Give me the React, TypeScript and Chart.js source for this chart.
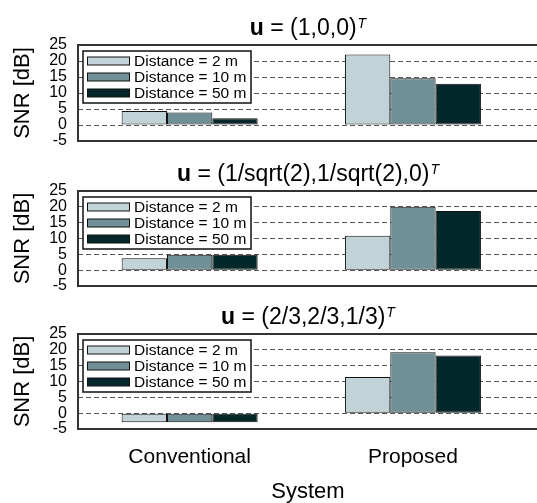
import { useEffect, useRef } from 'react';
import { Chart, registerables } from 'chart.js';

Chart.register(...registerables);

// ---------- data ----------
const categories = ['Conventional', 'Proposed'];
const categoryPositions = [1, 2];
const seriesLabels = ['Distance = 2 m', 'Distance = 10 m', 'Distance = 50 m'];
const panelVectors = ['(1,0,0)', '(1/sqrt(2),1/sqrt(2),0)', '(2/3,2/3,1/3)'];

// values: [Conventional, Proposed]
const panel1Dist2 = [4.4, 22.0];
const panel1Dist10 = [3.9, 14.6];
const panel1Dist50 = [2.1, 12.9];

const panel2Dist2 = [3.8, 10.9];
const panel2Dist10 = [4.9, 20.0];
const panel2Dist50 = [4.9, 18.7];

const panel3Dist2 = [-2.9, 11.4];
const panel3Dist10 = [-2.9, 19.2];
const panel3Dist50 = [-2.9, 18.2];

const yTickValues = [-5, 0, 5, 10, 15, 20, 25];
const yAxisTitle = 'SNR [dB]';
const xAxisTitle = 'System';

const panelSeries = [
  [panel1Dist2, panel1Dist10, panel1Dist50],
  [panel2Dist2, panel2Dist10, panel2Dist50],
  [panel3Dist2, panel3Dist10, panel3Dist50],
];

// ---------- styles / layout ----------
const seriesColors = ['#c1d3d9', '#718f96', '#04282a'];
const FONT = '"Liberation Sans", Arial, Helvetica, sans-serif';
const CANVAS_W = 538;
const CANVAS_H = 512;
const PLOT_LEFT = 78;
const panelTops = [45, 191, 334];
const panelBottoms = [141, 286, 429];

const decorPlugin = {
  id: 'decor',
  afterDraw(chart: any, _args: any, opts: any) {
    const { ctx, chartArea: a } = chart;
    ctx.save();
    // frame
    ctx.strokeStyle = '#333';
    ctx.lineWidth = 2;
    ctx.strokeRect(a.left, a.top, a.right - a.left, a.bottom - a.top);

    // legend
    const bx = a.left + 5;
    const by = a.top + 6;
    const bw = 168;
    const bh = 52;
    ctx.fillStyle = '#fff';
    ctx.fillRect(bx, by, bw, bh);
    ctx.strokeStyle = '#111';
    ctx.lineWidth = 1.5;
    ctx.strokeRect(bx, by, bw, bh);
    chart.data.datasets.forEach((ds: any, i: number) => {
      const cy = by + 10 + i * 16;
      ctx.fillStyle = ds.backgroundColor;
      ctx.fillRect(bx + 4.5, cy - 4, 42, 8);
      ctx.strokeStyle = '#111';
      ctx.lineWidth = 1;
      ctx.strokeRect(bx + 4.5, cy - 4, 42, 8);
      ctx.fillStyle = '#000';
      ctx.font = `15.5px ${FONT}`;
      ctx.textAlign = 'left';
      ctx.textBaseline = 'middle';
      ctx.fillText(ds.label, bx + 51, cy + 0.5);
    });

    // title: bold u = vector ^T
    const vec = opts.vector as string;
    const boldFont = `bold 23px ${FONT}`;
    const normFont = `23px ${FONT}`;
    const supFont = `italic 14px ${FONT}`;
    ctx.font = boldFont;
    const w1 = ctx.measureText('u').width;
    const rest = ' = ' + vec;
    ctx.font = normFont;
    const w2 = ctx.measureText(rest).width;
    ctx.font = supFont;
    const w3 = ctx.measureText('T').width;
    const total = w1 + w2 + w3 + 1;
    let x = (a.left + a.right) / 2 - total / 2;
    const y = a.top - 10;
    ctx.fillStyle = '#000';
    ctx.textAlign = 'left';
    ctx.textBaseline = 'alphabetic';
    ctx.font = boldFont;
    ctx.fillText('u', x, y);
    x += w1;
    ctx.font = normFont;
    ctx.fillText(rest, x, y);
    x += w2 + 1;
    ctx.font = supFont;
    ctx.fillText('T', x, y - 7);
    ctx.restore();
  },
};

function makeConfig(panel: number): any {
  const isBottom = panel === 2;
  const xHeight = isBottom ? CANVAS_H - panelBottoms[panel] : 0;
  return {
    type: 'bar',
    data: {
      datasets: panelSeries[panel].map((vals, i) => ({
        label: seriesLabels[i],
        data: vals.map((v, j) => ({ x: categoryPositions[j], y: v })),
        backgroundColor: seriesColors[i],
        borderColor: '#111',
        borderWidth: 1,
        borderSkipped: false,
        categoryPercentage: 0.609,
        barPercentage: 1.0,
      })),
    },
    options: {
      responsive: false,
      animation: false,
      events: [],
      layout: {
        autoPadding: false,
        padding: {
          left: 0,
          right: 0,
          top: panelTops[panel],
          bottom: CANVAS_H - panelBottoms[panel] - xHeight,
        },
      },
      plugins: {
        legend: { display: false },
        tooltip: { enabled: false },
        title: { display: false },
        decor: { vector: panelVectors[panel] },
      },
      scales: {
        x: {
          type: 'linear',
          display: isBottom,
          min: 0.5,
          max: 2.56,
          offset: false,
          grid: { display: false, drawTicks: false, offset: false },
          border: { display: false },
          afterBuildTicks: (scale: any) => {
            scale.ticks = categoryPositions.map((v) => ({ value: v }));
          },
          afterFit: (scale: any) => {
            scale.height = xHeight;
          },
          ticks: {
            autoSkip: false,
            maxRotation: 0,
            padding: 16,
            color: '#000',
            font: { size: 21, family: FONT },
            callback: (v: number) => {
              const i = categoryPositions.indexOf(v);
              return i >= 0 ? categories[i] : '';
            },
          },
          title: {
            display: isBottom,
            text: xAxisTitle,
            color: '#000',
            font: { size: 22, family: FONT },
            padding: { top: 0, bottom: 7 },
          },
        },
        y: {
          type: 'linear',
          min: -5,
          max: 25,
          grid: { color: '#555', lineWidth: 1, drawTicks: false },
          border: { display: false, dash: [5, 3] },
          afterBuildTicks: (scale: any) => {
            scale.ticks = yTickValues.map((v) => ({ value: v }));
          },
          afterFit: (scale: any) => {
            scale.width = PLOT_LEFT;
          },
          ticks: {
            autoSkip: false,
            padding: 11,
            color: '#000',
            font: { size: 16, family: FONT },
          },
          title: {
            display: true,
            text: yAxisTitle,
            color: '#000',
            font: { size: 22, family: FONT },
            padding: { top: 10, bottom: 0 },
          },
        },
      },
    },
    plugins: [decorPlugin],
  };
}

export default function App() {
  const refs = useRef<(HTMLCanvasElement | null)[]>([]);

  useEffect(() => {
    const charts = panelSeries.map((_, i) => {
      const c = refs.current[i];
      return c ? new Chart(c, makeConfig(i)) : null;
    });
    return () => {
      charts.forEach((ch) => ch && ch.destroy());
    };
  }, []);

  return (
    <div
      style={{
        position: 'absolute',
        left: 0,
        top: 0,
        width: 537,
        height: 503,
        overflow: 'hidden',
        background: '#fff',
      }}
    >
      {panelSeries.map((_, i) => (
        <canvas
          key={i}
          ref={(el) => {
            refs.current[i] = el;
          }}
          width={CANVAS_W}
          height={CANVAS_H}
          style={{ position: 'absolute', left: 0, top: 0 }}
        />
      ))}
    </div>
  );
}
